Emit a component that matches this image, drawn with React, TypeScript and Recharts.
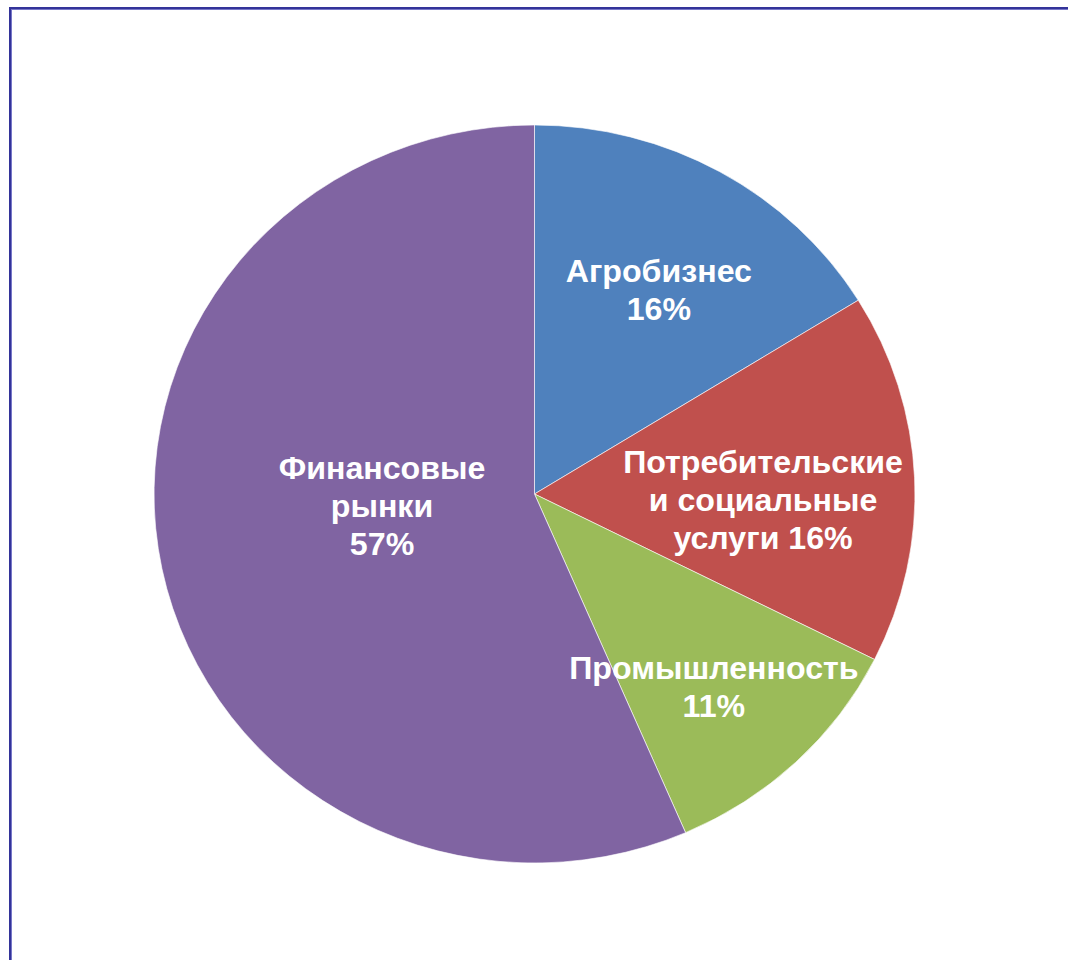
import { PieChart, Pie, Cell } from 'recharts';

const categories = ['Агробизнес', 'Потребительские\nи социальные\nуслуги', 'Промышленность', 'Финансовые\nрынки'];
// shares; labels show them rounded
const shares = [16.2, 16.2, 11.1, 56.5];
// true = percentage goes on its own line, false = appended to last line
const percentOnNewLine = [true, false, true, true];
const colors = ['#4F81BD', '#C0504D', '#9BBB59', '#8064A2'];

// label placement tweaks: angle shift from slice middle (deg), radius fraction
const labelAngleShift = [-1.45, -4.05, -1.4, -7.1];
const labelRadius = [0.642, 0.601, 0.705, 0.402];

const data = categories.map((name, i) => ({ name, value: shares[i] }));

const RAD = Math.PI / 180;
const LINE_H = 38;

const renderLabel = (props: any) => {
  const { cx, cy, midAngle, outerRadius, index, value } = props;
  const a = (midAngle + labelAngleShift[index]) * RAD;
  const r = outerRadius * labelRadius[index];
  const x = cx + r * Math.cos(a);
  const y = cy - r * Math.sin(a);
  const pct = `${Math.round(value)}%`;
  const lines = categories[index].split('\n');
  if (percentOnNewLine[index]) lines.push(pct);
  else lines[lines.length - 1] += ` ${pct}`;
  const n = lines.length;
  return (
    <text
      x={x}
      y={y}
      fill="#fff"
      textAnchor="middle"
      fontFamily="'Liberation Sans', Arial, sans-serif"
      fontWeight="bold"
      fontSize={31.2}
    >
      {lines.map((l, i) => (
        <tspan key={i} x={x} y={y + (i - (n - 1) / 2) * LINE_H} dominantBaseline="central">
          {l}
        </tspan>
      ))}
    </text>
  );
};

const App = () => {
  return (
    <div style={{ position: 'absolute', left: 0, top: 0, width: 1068, height: 960, overflow: 'hidden', background: '#fff' }}>
      <div
        style={{
          position: 'absolute',
          left: 9,
          top: 7,
          width: 1100,
          height: 1000,
          border: '2px solid #333399',
          boxShadow: 'inset 1px 1px 0 #7777c8',
        }}
      />
      <div style={{ position: 'absolute', left: 0, top: 0, transform: 'scaleX(1.031)', transformOrigin: '534.5px 0' }}>
        <PieChart width={1068} height={960} margin={{ top: 0, right: 0, bottom: 0, left: 0 }}>
          <Pie
            data={data}
            dataKey="value"
            nameKey="name"
            cx={534.5}
            cy={494}
            outerRadius={369}
            startAngle={90}
            endAngle={-270}
            stroke="#fff"
            strokeWidth={0.6}
            label={renderLabel}
            labelLine={false}
            isAnimationActive={false}
          >
            {data.map((d, i) => (
              <Cell key={d.name} fill={colors[i]} />
            ))}
          </Pie>
        </PieChart>
      </div>
    </div>
  );
};

export default App;
